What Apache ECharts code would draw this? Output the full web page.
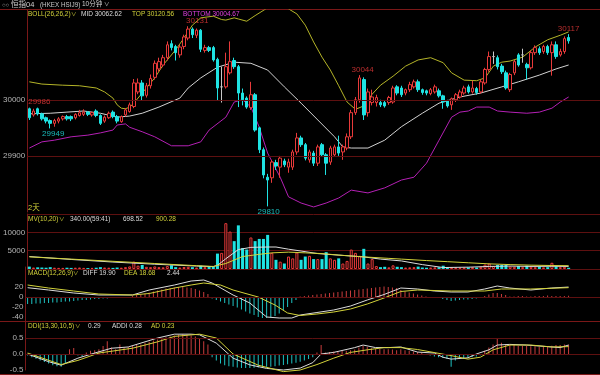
<!DOCTYPE html>
<html><head><meta charset="utf-8">
<script src="https://cdn.jsdelivr.net/npm/echarts@6/dist/echarts.min.js"></script>
<style>html,body{margin:0;padding:0;background:#000;}#c{width:600px;height:375px;}</style>
</head><body><div id="c"></div>
<script>
// ---------- DATA ----------
const categories = Array.from({length: 137}, (_, i) => String(i));
const candleOpen  = [29984,29973,29984,29975,29968,29963,29958,29962,29966,29970,29970,29968,29972,29974,29978,29973,29980,29972,29962,29968,29978,29970,29961,29973,29979,29988,30014,30030,30008,30025,30040,30055,30062,30075,30100,30095,30080,30095,30110,30126,30115,30124,30088,30093,30093,30072,30023,30023,30048,30070,30059,30012,30003,29986,30009,29950,29911,29862,29861,29888,29880,29891,29880,29880,29907,29932,29920,29893,29905,29887,29920,29902,29889,29902,29916,29907,29914,29934,29977,30000,30036,29977,29995,29995,29995,29995,29995,29996,30023,30021,30012,30018,30023,30032,30018,30016,30011,30014,30016,30007,29998,29991,30000,30005,30012,30023,30014,30020,30014,30030,30054,30077,30075,30060,30048,30018,30048,30080,30080,30063,30057,30084,30091,30086,30095,30084,30098,30080,30086,30111];
const candleClose = [29968,29980,29975,29966,29962,29958,29963,29966,29970,29966,29966,29974,29977,29978,29974,29977,29972,29958,29969,29976,29970,29962,29970,29982,29991,30030,30030,30007,30025,30038,30065,30068,30075,30098,30093,30084,30094,30112,30126,30116,30124,30090,30093,30088,30071,30021,30023,30059,30068,30059,30012,30000,29987,30009,29946,29911,29866,29857,29889,29882,29896,29884,29889,29907,29932,29920,29896,29907,29887,29916,29902,29887,29914,29916,29905,29916,29934,29977,30000,30039,29973,30014,30005,30004,29991,29989,30004,30021,30012,30009,30018,30027,30032,30018,30013,30012,30018,30023,30007,29996,29989,30002,30009,30014,30021,30014,30021,30013,30032,30054,30077,30077,30059,30050,30021,30045,30068,30062,30080,30057,30084,30093,30084,30095,30084,30098,30077,30086,30109,30105];
const candleHigh  = [29986,29984,29986,29977,29970,29965,29966,29969,29972,29973,29972,29976,29982,29983,29980,29979,29983,29974,29972,29979,29981,29973,29972,29985,29995,30037,30038,30035,30030,30045,30070,30075,30080,30104,30106,30098,30098,30116,30131,30129,30127,30126,30098,30096,30096,30075,30059,30084,30104,30075,30062,30020,30006,30032,30012,29952,29915,29868,29893,29893,29900,29895,29895,29911,29941,29936,29923,29911,29909,29920,29923,29905,29918,29920,29936,29920,29940,29982,30005,30044,30040,30020,30018,30009,30000,29998,30007,30025,30026,30025,30020,30032,30036,30036,30020,30018,30021,30027,30020,30009,30000,30004,30012,30018,30025,30027,30034,30023,30036,30057,30086,30086,30079,30064,30052,30048,30071,30083,30091,30066,30088,30097,30095,30098,30098,30104,30104,30091,30113,30117];
const candleLow   = [29964,29970,29972,29963,29958,29949,29952,29958,29963,29963,29962,29965,29970,29971,29971,29970,29969,29955,29959,29966,29967,29958,29959,29970,29977,29985,30010,29998,30004,30020,30036,30050,30058,30070,30088,30070,30075,30090,30106,30110,30110,30085,30084,30085,30068,29998,29995,30020,30045,30055,29987,29990,29984,29982,29943,29905,29860,29810,29852,29875,29861,29880,29870,29875,29902,29916,29892,29888,29882,29882,29898,29866,29884,29898,29900,29893,29910,29930,29973,29995,29964,29970,29990,29988,29987,29986,29991,29993,30008,30005,30008,30014,30020,30014,30009,30008,30008,30011,30004,29984,29986,29982,29996,30002,30009,30011,30011,30009,30011,30027,30050,30064,30054,30046,30018,30014,30044,30059,30066,30036,30054,30080,30080,30082,30080,30043,30073,30077,30082,30100];
const volume = [650,400,450,400,350,500,350,300,300,350,300,350,400,300,250,300,350,500,400,350,300,400,350,500,700,2000,900,1100,600,500,700,500,450,800,1000,500,400,550,600,500,400,900,500,800,600,4200,4400,12500,10200,7600,11900,5700,5300,8600,7600,8200,8200,9300,4400,2500,2000,1500,3400,2900,4500,2500,3400,3600,2700,2700,2700,4600,2900,2500,2900,1500,2200,5300,4400,3600,5500,1500,2700,800,500,600,450,1000,600,500,400,450,500,650,400,350,400,450,500,900,500,450,400,350,400,450,500,400,600,1200,1500,800,1100,1100,1100,700,600,800,500,900,600,500,650,450,500,1700,700,500,600,340];
const macdHist = [-14,-14,-13,-13,-12,-12,-11,-11,-10,-9,-9,-8,-7,-6,-6,-5,-4,-4,-3,-3,-2,-2,-1,-1,0,
  2,4,5,7,9,11,13,15,17,18,19,20,20,19,18,16,13,10,6,
  -3,-6,-9,-12,-15,-18,-21,-25,-29,-33,-36,-40,-42,-42,-41,-38,-33,-26,-20,-12,-6,
  1,2,3,4,5,6,7,8,9,10,11,12,13,14,15,16,17,18,19,20,21,20,19,18,
  14,11,9,7,5,3,
  1,0,-1,-2,-4,-6,-8,-7,-6,-5,-5,-4,-3,-2,
  2,5,8,8,6,4,
  1,1,2,2,1,1,2,2,2,3,2,2,2,2,2.44];
const ddiHist = [-0.05,-0.1,-0.15,-0.2,-0.25,-0.3,-0.35,-0.38,-0.4,-0.3,
  0.15,0.19,-0.05,-0.08,
  0.05,0.1,0.12,0.15,0.25,0.4,0.2,0.15,0.3,0.2,0.22,0.25,0.28,0.3,0.35,0.38,0.42,0.45,0.5,0.52,0.55,0.58,0.6,
  0.62,0.6,0.58,0.55,0.5,0.4,0.3,
  -0.1,-0.2,-0.3,-0.35,-0.38,-0.4,-0.42,-0.44,-0.44,-0.44,-0.43,-0.42,-0.42,-0.4,-0.4,-0.38,-0.36,-0.34,-0.32,-0.3,-0.27,-0.24,-0.2,-0.16,-0.1,
  0.05,0.28,0.05,0.06,0.08,0.08,0.1,0.1,0.12,0.14,0.2,0.25,0.22,0.18,0.16,0.16,0.15,0.15,0.14,0.12,
  0.15,0.12,0.1,0.08,0.06,0.04,
  -0.02,-0.05,-0.08,-0.1,-0.12,-0.15,-0.4,-0.2,-0.15,-0.15,-0.12,-0.1,-0.08,-0.04,
  0.1,0.2,0.3,0.5,0.35,0.3,0.28,0.28,0.26,0.25,0.25,0.24,0.24,0.22,0.22,0.25,0.26,0.28,0.28,0.3,0.29];
// indicator lines read at sample points: [candle index, value]
const bollMid = [[0,29975],[5,29976],[9,29978],[13,29980],[17,29976],[21,29969],[24,29971],[27,29976],[31,29987],[36,30003],[38,30021],[41,30039],[45,30058],[49,30067],[53,30065],[57,30053],[61,30023],[65,29994],[69,29964],[73,29934],[75,29916],[77,29914],[81,29914],[85,29928],[89,29952],[94,29976],[98,29994],[103,30005],[108,30012],[113,30023],[117,30032],[122,30044],[126,30055],[129,30062]];
const bollTop = [[0,30032],[3,30028],[8,30026],[12,30025],[16,30021],[18,30014],[20,30003],[21,29991],[22,29985],[23,29984],[24,29987],[25,29994],[27,30012],[30,30039],[32,30062],[35,30089],[37,30110],[39,30133],[41,30146],[44,30149],[46,30143],[47,30142],[49,30146],[50,30144],[52,30140],[54,30150],[57,30164],[60,30171],[62,30162],[64,30153],[66,30133],[68,30103],[70,30076],[72,30053],[74,30025],[76,29996],[78,29983],[80,29989],[82,30010],[84,30026],[87,30042],[90,30060],[93,30071],[96,30075],[99,30066],[101,30048],[104,30035],[107,30034],[109,30039],[111,30060],[113,30067],[115,30069],[118,30076],[121,30094],[124,30107],[127,30115],[129,30121]];
const bollBottom = [[0,29914],[3,29925],[6,29928],[10,29934],[14,29937],[17,29941],[20,29946],[21,29955],[23,29957],[24,29951],[27,29943],[30,29934],[34,29918],[38,29918],[41,29925],[43,29946],[47,29969],[49,29996],[51,30000],[53,29987],[55,29951],[57,29905],[60,29862],[62,29827],[65,29816],[68,29809],[71,29816],[74,29825],[77,29839],[81,29834],[85,29843],[89,29857],[92,29862],[95,29887],[98,29928],[101,29969],[103,29978],[105,29980],[107,29987],[110,29987],[112,29980],[115,29978],[119,29976],[122,29978],[125,29985],[127,29996],[129,30005]];
const volMa10 = [[0,3400],[10,2600],[20,1900],[30,1300],[40,800],[44,650],[45,1000],[47,2800],[50,5300],[53,5900],[57,6000],[59,6000],[62,5400],[65,4900],[69,4200],[75,3700],[80,3300],[84,2700],[89,2200],[94,1200],[99,400],[105,500],[110,700],[115,800],[120,700],[125,750],[129,700]];
const volMa20 = [[0,3300],[10,2700],[20,2100],[30,1500],[40,900],[44,700],[47,1500],[51,3400],[55,4000],[58,4400],[62,4600],[66,4400],[70,4200],[74,3800],[80,3300],[86,2900],[89,2700],[95,2300],[100,2000],[105,1700],[110,1400],[115,1200],[120,1050],[125,950],[129,900]];
const macdDiff = [[0,18.6],[5,14],[11,8],[17,4],[25,4],[29,14],[35,24],[39,32],[42,34],[44,28],[49,4],[53,-12],[57,-40],[60,-42],[63,-42],[65,-36],[69,-31],[73,-26],[77,-18],[81,-6],[85,5],[89,18],[93,16],[97,12],[101,10],[105,10],[109,16],[112,22],[115,18],[120,14],[125,18],[129,19.9]];
const macdDea = [[0,24],[5,18],[11,12],[17,6],[25,4],[29,7],[35,18],[39,24],[42,28],[46,24],[49,14],[55,0],[59,-16],[62,-32],[65,-37],[69,-34],[73,-30],[77,-24],[81,-14],[85,-2],[89,11],[93,14],[101,12],[109,12],[113,16],[120,16],[129,18.68]];
const ddiAddi = [[0,0],[5,-0.24],[8,-0.35],[12,-0.13],[16,0.03],[20,0.18],[24,0.22],[28,0.38],[31,0.5],[35,0.62],[39,0.62],[41,0.6],[45,0.34],[49,-0.13],[53,-0.34],[57,-0.45],[61,-0.5],[65,-0.44],[68,-0.27],[70,0],[73,0.05],[78,0.2],[80,0.28],[83,0.2],[86,0.2],[89,0.22],[93,0.06],[97,0.03],[99,-0.1],[101,-0.16],[105,-0.12],[107,0],[110,0.13],[112,0.28],[115,0.3],[119,0.28],[125,0.22],[127,0.2],[129,0.28]];
const ddiAd = [[0,0.03],[8,-0.33],[12,-0.2],[17,0.03],[25,0.18],[31,0.38],[35,0.55],[41,0.62],[45,0.5],[49,0],[55,-0.35],[61,-0.55],[65,-0.5],[69,-0.33],[73,-0.13],[77,0.05],[81,0.13],[85,0.2],[89,0.2],[93,0.14],[101,-0.05],[105,-0.16],[108,-0.1],[111,0.13],[115,0.28],[120,0.28],[125,0.22],[129,0.23]];
const highMarks = [[0,29986],[38,30131],[79,30044],[129,30117]];
const lowMarks = [[5,29949],[57,29810]];
const priceTicks = [29900, 30000];
const volTicks = [5000, 10000];
const macdTicks = [20, 0, -20, -40];
const ddiTicks = [0.5, 0, -0.5];

// ---------- STYLE ----------
const RED = '#e83a3a', CYAN = '#1fe3e3', GRID = '#5e1010', SEP = '#7a1818', AXT = '#b4b4b4';
const YEL = '#d2d23a', WHT = '#dcdcdc', OLIVE = '#b4b428';
const FONT = '"Liberation Sans","Noto Sans CJK SC",sans-serif';
const highOffsets = [10, 9, 3, 0];
const lowOffsets = [3, 1];

const chart = echarts.init(document.getElementById('c'), null, {renderer: 'canvas'});
const candles = candleOpen.map((o, i) => [o, candleClose[i], candleLow[i], candleHigh[i]]);
const volData = volume.map((v, i) => {
  const up = candleClose[i] >= candleOpen[i];
  return {value: v, itemStyle: up ? {color: '#000', borderColor: RED, borderWidth: 1} : {color: CYAN}};
});
const signBars = arr => arr.map(v => ({value: v, itemStyle: {color: v >= 0 ? '#c83c3c' : '#1ec3c3'}}));

const grids = [
  {left: 25.5, right: 0, top: 10, height: 202},
  {left: 25.5, right: 0, top: 214, height: 55},
  {left: 25.5, right: 0, top: 267, height: 60},
  {left: 25.5, right: 0, top: 322, height: 48}
];
const xAxes = grids.map((g, i) => ({type: 'category', gridIndex: i, data: categories, boundaryGap: true, show: false}));
const lab = f => ({color: AXT, fontSize: 8, fontFamily: FONT, margin: 2, showMaxLabel: true, formatter: f});
const yBase = (i, extra) => Object.assign({
  type: 'value', gridIndex: i, scale: false,
  axisLine: {show: true, lineStyle: {color: SEP, width: 1}},
  axisTick: {show: false},
  splitLine: {show: false}
}, extra);
const yAxes = [
  yBase(0, {min: 29800, max: 30160, interval: 100, axisLabel: lab(v => priceTicks.includes(v) ? String(v) : '')}),
  yBase(1, {min: 0, max: 15000, interval: 5000, splitLine: {show: true, lineStyle: {color: GRID, width: 1}},
    axisLabel: lab(v => volTicks.includes(v) ? String(v) : '')}),
  yBase(2, {min: -60, max: 60, interval: 20, axisLabel: lab(v => macdTicks.includes(v) ? String(v) : '')}),
  yBase(3, {min: -0.5, max: 1, interval: 0.5, axisLabel: lab(v => ddiTicks.some(t => Math.abs(t - v) < 1e-9) ? v.toFixed(1) : '')})
];
const gridLine = vals => ({silent: true, symbol: 'none', label: {show: false},
  lineStyle: {color: GRID, width: 1, type: 'solid'}, data: vals.map(v => ({yAxis: v}))});
const line = (data, color, xi) => ({type: 'line', data, xAxisIndex: xi, yAxisIndex: xi, symbol: 'none',
  lineStyle: {color, width: 1}, silent: true, z: 3, clip: xi === 0});

const t = (x, y, s, c, fs) => ({type: 'text', x, y, silent: true,
  style: {text: s, fill: c, fontSize: fs || 6.5, fontFamily: FONT}});
const hline = y => ({type: 'line', silent: true, shape: {x1: 0, y1: y, x2: 600, y2: y}, style: {stroke: SEP, lineWidth: 1}});

const option = {
  backgroundColor: '#000',
  animation: false,
  grid: grids,
  xAxis: xAxes,
  yAxis: yAxes,
  series: [
    {type: 'candlestick', data: candles, xAxisIndex: 0, yAxisIndex: 0, barWidth: 3,
      itemStyle: {color: '#000', color0: CYAN, borderColor: RED, borderColor0: CYAN, borderColorDoji: '#c8c8c8', borderWidth: 1},
      markLine: gridLine(priceTicks), z: 4},
    line(bollMid, '#d2d2d2', 0),
    line(bollTop, OLIVE, 0),
    line(bollBottom, '#b420b4', 0),
    {type: 'scatter', xAxisIndex: 0, yAxisIndex: 0, symbolSize: 1, itemStyle: {color: 'rgba(0,0,0,0)'},
      data: highMarks.map((d, k) => ({value: d, label: {offset: [highOffsets[k], 0]}})),
      label: {show: true, position: 'top', distance: 1, color: RED, fontSize: 8, fontFamily: FONT, formatter: p => String(p.value[1])}, z: 6},
    {type: 'scatter', xAxisIndex: 0, yAxisIndex: 0, symbolSize: 1, itemStyle: {color: 'rgba(0,0,0,0)'},
      data: lowMarks.map((d, k) => ({value: d, label: {offset: [lowOffsets[k], 0]}})),
      label: {show: true, position: 'bottom', distance: 1, color: CYAN, fontSize: 8, fontFamily: FONT, formatter: p => String(p.value[1])}, z: 6},
    {type: 'bar', data: volData, xAxisIndex: 1, yAxisIndex: 1, barWidth: 3},
    line(volMa10, WHT, 1),
    line(volMa20, YEL, 1),
    {type: 'bar', data: signBars(macdHist), xAxisIndex: 2, yAxisIndex: 2, barWidth: 1, markLine: gridLine([0])},
    line(macdDiff, WHT, 2),
    line(macdDea, YEL, 2),
    {type: 'bar', data: signBars(ddiHist), xAxisIndex: 3, yAxisIndex: 3, barWidth: 1, markLine: gridLine([0.5, 0])},
    line(ddiAddi, WHT, 3),
    line(ddiAd, YEL, 3)
  ],
  graphic: [
    hline(9.5), hline(321.5), hline(374.5),
    t(2, 2, '○○', '#bdbdbd', 6), t(11, 1, '恒指04', '#d0d0d0', 7.5), t(40, 2, '(HKEX HSIJ9)', '#c8c8c8', 6.3),
    t(82, 1, '10分钟', '#d0d0d0', 6.5), t(104, 2, '∨', '#d0d0d0', 5.5),
    t(28, 11, 'BOLL(26,26,2)', YEL), t(71, 12, '∨', YEL, 5.5),
    t(81, 11, 'MID 30062.62', WHT), t(132, 11, 'TOP 30120.56', YEL), t(183, 11, 'BOTTOM 30004.67', '#e040e0'),
    t(28, 204, '2天', YEL, 7.5),
    t(28, 216, 'MV(10,20)', YEL), t(59, 217, '∨', YEL, 5.5), t(70, 216, '340.00(59:41)', WHT), t(123, 216, '698.52', WHT), t(156, 216, '900.28', YEL),
    t(28, 270, 'MACD(12,26,9)', YEL), t(73, 271, '∨', YEL, 5.5), t(83, 270, 'DIFF 19.90', WHT), t(124, 270, 'DEA 18.68', YEL), t(167, 270, '2.44', WHT),
    t(28, 323, 'DDI(13,30,10,5)', YEL), t(75, 324, '∨', YEL, 5.5), t(88, 323, '0.29', WHT), t(112, 323, 'ADDI 0.28', WHT), t(151, 323, 'AD 0.23', YEL)
  ]
};
chart.setOption(option);
</script></body></html>
